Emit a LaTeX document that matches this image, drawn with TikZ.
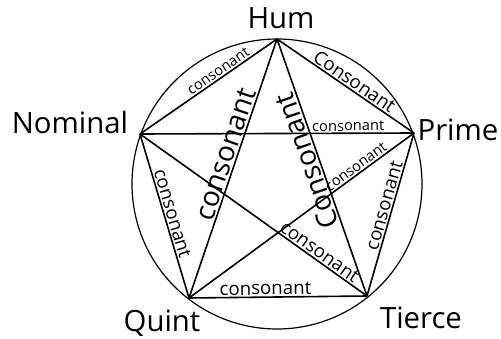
\documentclass[tikz,border=0pt]{standalone}
\usepackage{fontspec}
\setmainfont{Open Sans}

\begin{document}
\begin{tikzpicture}[x=0.75pt, y=-0.75pt,
  edge/.style={line width=1.2pt},
  ring/.style={line width=0.9pt},
  vname/.style={font=\fontsize{22}{24}\selectfont, inner sep=0pt},
  csm/.style={sloped, above, inner sep=1pt, font=\fontsize{11}{12}\selectfont},
  cmd/.style={sloped, above, inner sep=1pt, font=\fontsize{14}{15}\selectfont},
  cbg/.style={sloped, above, inner sep=1pt, font=\fontsize{21}{22}\selectfont}]
			\useasboundingbox (0,0) rectangle (501,339);
			\draw[ring] (277,184) circle (145);
			\coordinate (hum) at (277,39);
			\coordinate (pri) at (414,133);
			\coordinate (tie) at (367,296);
			\coordinate (qui) at (189,298);
			\coordinate (nom) at (140,134);
			\node[vname] (humlbl) at (281,18) {Hum};
			\node[vname] (prilbl) at (458,130) {Prime};
			\node[vname] (tielbl) at (421,318) {Tierce};
			\node[vname] (quilbl) at (162,323) {Quint};
			\node[vname] (nomlbl) at (70,122) {Nominal};
			% pentagon
			\draw[edge] (nom) -- node[csm, pos=.6] {consonant} (hum);
			\draw[edge] (hum) -- node[cmd, pos=.53] {Consonant} (pri);
			\draw[edge] (tie) -- node[cmd, pos=.54] {consonant} (pri);
			\draw[edge] (qui) -- node[cmd, pos=.43] {consonant} (tie);
			\draw[edge] (nom) -- node[cmd, pos=.5] {consonant} (qui);
			% star
			\draw[edge] (nom) -- node[csm, pos=.76] {consonant} (pri);
			\draw[edge] (qui) -- node[csm, pos=.76] {consonant} (pri);
			\draw[edge] (nom) -- node[cmd, pos=.77] {consonant} (tie);
			\draw[edge] (qui) -- node[cbg, pos=.54] {consonant} (hum);
			\draw[edge] (tie) -- node[cbg, pos=.54, allow upside down] {Consonant} (hum);
\end{tikzpicture}
\end{document}
